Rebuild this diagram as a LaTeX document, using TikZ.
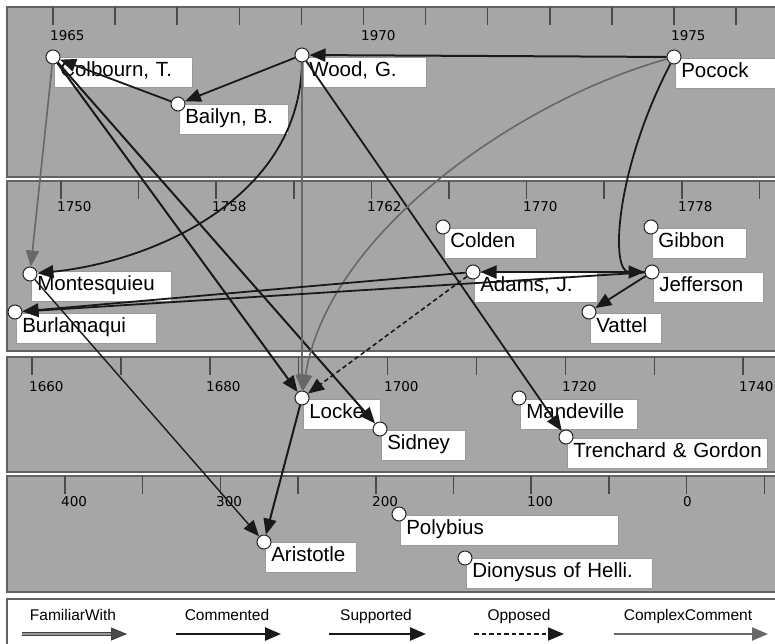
\documentclass[tikz,border=0pt]{standalone}
\usepackage{fontspec}
\setmainfont{Liberation Sans}
\newfontfamily\tickfont{DejaVu Sans}
\usetikzlibrary{arrows, arrows.meta}
\usetikzlibrary{calc}

\definecolor{bandgrey}{RGB}{166,166,166}
\definecolor{rimgrey}{RGB}{98,98,98}
\definecolor{edgegrey}{RGB}{104,104,104}

\begin{document}
\begin{tikzpicture}[x=1pt, y=-1pt,
    band/.style={fill=bandgrey, draw=rimgrey, line width=1.6pt},
    tickmark/.style={draw=rimgrey!75!black, line width=1.5pt},
    year/.style={anchor=west, inner sep=0pt, font=\tickfont\fontsize{13.5}{15}\selectfont},
    dot/.style={circle, draw=black!85, fill=white, line width=1pt, inner sep=0pt, minimum size=14pt},
    namebox/.style={anchor=north west, draw=black!40, fill=white, line width=0.6pt, inner xsep=6pt, inner ysep=5.35pt, align=left, text height=14.3pt, text depth=5pt, font=\fontsize{20.5}{24}\selectfont},
    commented/.style={draw=black!90, line width=1.8pt, -{Triangle[length=16pt, width=13pt]}},
    supported/.style={commented, line width=2pt},
    opposed/.style={commented, line width=1.6pt, dash pattern=on 4.5pt off 3pt},
    complex/.style={draw=edgegrey, line width=1.6pt, -{Triangle[length=16pt, width=13pt]}},
    familiar/.style={draw=black!75, double=black!40, double distance=1.4pt, line width=1pt, -{Triangle[length=16pt, width=13pt, fill=black!70]}},
    legendtext/.style={anchor=base, inner sep=0pt, font=\fontsize{15.5}{17}\selectfont}
  ]
  \useasboundingbox (0,0) rectangle (775,643);
  \clip (0,0) rectangle (775,643);

  \draw[band] (7,7) rectangle (790,177);
  \draw[band] (7,181) rectangle (790,351);
  \draw[band] (7,357) rectangle (790,472);
  \draw[band] (7,476) rectangle (790,592);
  \draw[fill=white, draw=rimgrey, line width=1.6pt] (7,599) rectangle (790,660);

  \foreach \k in {0,...,11} \draw[tickmark] ({53+62.1*\k},7) -- ++(0,18);
  \foreach \k in {0,...,9} \draw[tickmark] ({61+77.6*\k},181) -- ++(0,18);
  \foreach \k in {0,...,8} \draw[tickmark] ({32+88.9*\k},357) -- ++(0,18);
  \foreach \k in {0,...,9} \draw[tickmark] ({65+77.7*\k},476) -- ++(0,18);

  \node[year] (y1965) at (50,36) {1965};
  \node[year] (y1970) at (361,36) {1970};
  \node[year] (y1975) at (671,36) {1975};
  \node[year] (y1750) at (57,207) {1750};
  \node[year] (y1758) at (212,207) {1758};
  \node[year] (y1762) at (367,207) {1762};
  \node[year] (y1770) at (523,207) {1770};
  \node[year] (y1778) at (678,207) {1778};
  \node[year] (y1660) at (29,387) {1660};
  \node[year] (y1680) at (206,387) {1680};
  \node[year] (y1700) at (384,387) {1700};
  \node[year] (y1720) at (562,387) {1720};
  \node[year] (y1740) at (739,387) {1740};
  \node[year] (y400) at (61,502) {400};
  \node[year] (y300) at (216,502) {300};
  \node[year] (y200) at (372,502) {200};
  \node[year] (y100) at (527,502) {100};
  \node[year] (y0) at (683,502) {0};

  \node[namebox, text width=126pt] (colbournL) at (54,57) {Colbourn, T.};
  \node[namebox, text width=97pt] (bailynL) at (179,104) {Bailyn, B.};
  \node[namebox, text width=111pt] (woodL) at (303,57) {Wood, G.};
  \node[namebox, text width=104pt] (pocockL) at (675,58) {Pocock};
  \node[namebox, text width=128pt] (montesquieuL) at (31,271) {Montesquieu};
  \node[namebox, text width=128pt] (burlamaquiL) at (16,313) {Burlamaqui};
  \node[namebox, text width=80pt] (coldenL) at (444,228) {Colden};
  \node[namebox, text width=111pt] (adamsL) at (474,272) {Adams, J.};
  \node[namebox, text width=82pt] (gibbonL) at (652,228) {Gibbon};
  \node[namebox, text width=98pt] (jeffersonL) at (653,272) {Jefferson};
  \node[namebox, text width=59pt] (vattelL) at (590,313) {Vattel};
  \node[namebox, text width=65pt] (lockeL) at (303,399) {Locke};
  \node[namebox, text width=72pt] (sidneyL) at (381,430) {Sidney};
  \node[namebox, text width=105pt] (mandevilleL) at (520,399) {Mandeville};
  \node[namebox, text width=188pt] (trenchardL) at (567,438) {\mbox{Trenchard \& Gordon}};
  \node[namebox, text width=79pt] (aristotleL) at (265,542) {Aristotle};
  \node[namebox, text width=206pt] (polybiusL) at (400,515) {Polybius};
  \node[namebox, text width=174pt] (dionysusL) at (466,558) {Dionysus of Helli.};

  \node[dot] (colbourn) at (53,57) {};
  \node[dot] (bailyn) at (178,104) {};
  \node[dot] (wood) at (302,55) {};
  \node[dot] (pocock) at (674,57) {};
  \node[dot] (montesquieu) at (30,274) {};
  \node[dot] (burlamaqui) at (15,312) {};
  \node[dot] (colden) at (443,227) {};
  \node[dot] (adams) at (473,272) {};
  \node[dot] (gibbon) at (651,227) {};
  \node[dot] (jefferson) at (652,272) {};
  \node[dot] (vattel) at (589,312) {};
  \node[dot] (locke) at (302,398) {};
  \node[dot] (sidney) at (380,429) {};
  \node[dot] (mandeville) at (519,398) {};
  \node[dot] (trenchard) at (566,437) {};
  \node[dot] (aristotle) at (264,542) {};
  \node[dot] (polybius) at (399,514) {};
  \node[dot] (dionysus) at (465,558) {};

  \draw[supported] (pocock) -- (wood);
  \draw[commented] (wood) -- (bailyn);
  \draw[commented] (bailyn) -- (colbourn);
  \draw[complex] (colbourn) -- (montesquieu);
  \draw[supported] (colbourn) -- (locke);
  \draw[supported] (colbourn) -- (sidney);
  \draw[commented] (wood) .. controls (300,200) and (150,262) .. (montesquieu);
  \draw[complex] (wood) -- (locke);
  \draw[commented] (wood) -- (trenchard);
  \draw[complex] (pocock) .. controls (520,100) and (328,232) .. (locke);
  \draw[commented] (pocock) .. controls (615,170) and (610,272) .. (jefferson);
  \draw[commented] (jefferson) -- (vattel);
  \draw[supported] (jefferson) -- (adams);
  \draw[commented] (jefferson) -- (burlamaqui);
  \draw[commented] (adams) -- (burlamaqui);
  \draw[opposed] (adams) -- (locke);
  \draw[commented, line width=1.4pt] (montesquieu) -- (aristotle);
  \draw[supported] (locke) -- (aristotle);

  \node[legendtext] (familiarT) at (73,620) {FamiliarWith};
  \node[legendtext] (commentedT) at (227,620) {Commented};
  \node[legendtext] (supportedT) at (376,620) {Supported};
  \node[legendtext] (opposedT) at (519,620) {Opposed};
  \node[legendtext] (complexT) at (688,620) {ComplexComment};
  \coordinate (familiarA) at (22,634);
  \coordinate (familiarB) at (127,634);
  \coordinate (commentedA) at (176,634);
  \coordinate (commentedB) at (281,634);
  \coordinate (supportedA) at (329,634);
  \coordinate (supportedB) at (426,634);
  \coordinate (opposedA) at (474,634);
  \coordinate (opposedB) at (564,634);
  \coordinate (complexA) at (614,634);
  \coordinate (complexB) at (768,634);
  \draw[familiar] (familiarA) -- (familiarB);
  \draw[commented, line width=2.6pt] (commentedA) -- (commentedB);
  \draw[supported, line width=2.6pt] (supportedA) -- (supportedB);
  \draw[opposed, line width=1.8pt] (opposedA) -- (opposedB);
  \draw[complex, line width=2.2pt] (complexA) -- (complexB);
\end{tikzpicture}
\end{document}
